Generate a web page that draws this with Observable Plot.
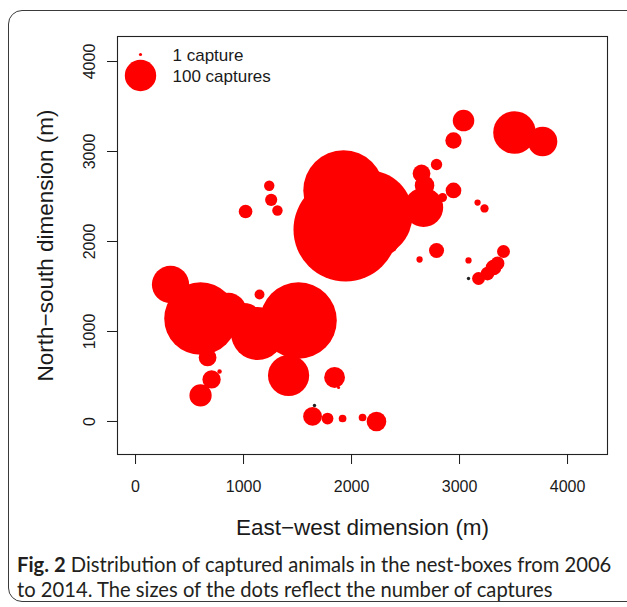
<!DOCTYPE html>
<html><head><meta charset="utf-8">
<script src="https://cdn.jsdelivr.net/npm/d3@7"></script>
<script src="https://cdn.jsdelivr.net/npm/@observablehq/plot@0.6"></script>
<style>
body{margin:0;background:#fff;}
#wrap{position:relative;width:627px;height:607px;overflow:hidden;background:#fff;}
#frame{position:absolute;left:8px;top:10px;width:680px;height:592px;border:1.5px solid #3a3a3a;border-radius:14px;box-sizing:border-box;}
#chart{position:absolute;left:0;top:0;}
#caption{position:absolute;left:17px;top:552px;font-family:Lato,"Open Sans",sans-serif;font-size:19px;line-height:25px;color:#231f20;white-space:nowrap;}
#caption b{font-weight:700;}
</style></head><body>
<div id="wrap"><div id="frame"></div><div id="chart"></div>
<div id="caption"><span id="line1"><b>Fig. 2</b> Distribution of captured animals in the nest-boxes from 2006</span><br><span>to 2014. The sizes of the dots reflect the number of captures</span></div></div>
<script>
// Nest-box positions (m) and number of captures
const xs = [3037, 2944, 3509, 3769, 2787, 2648, 2676, 2667, 2944, 2843, 3167, 3231, 2787, 2630, 3083, 3407, 3176, 3259, 3315, 3352,
            1926, 1944, 2157, 2343, 1238, 1256, 1314, 1019, 1148,
            324, 491, 602, 861, 1000, 1130, 1509,
            667, 704, 778, 602, 1417, 1843, 1639, 1778, 1917, 2102, 2231, 1880];
const ys = [3344, 3122, 3211, 3111, 2856, 2756, 2622, 2378, 2567, 2489, 2433, 2367, 1900, 1800, 1789, 1889, 1589, 1644, 1711, 1756,
            2567, 2133, 2300, 1978, 2619, 2463, 2344, 2333, 1411,
            1522, 1322, 1144, 1233, 1100, 978, 1122,
            711, 467, 556, 289, 511, 489, 56, 33, 33, 44, 0, 378];
const captures = [47, 27, 184, 88, 13, 32, 39, 156, 25, 8, 4, 7, 23, 4, 4, 17, 17, 19, 25, 19,
            657, 1097, 791, 39, 11, 15, 11, 19, 10,
            141, 88, 535, 127, 156, 285, 594,
            32, 34, 2, 50, 172, 44, 36, 14, 6, 6, 39, 1];
// Nest boxes shown as small black dots
const emptyX = [3083, 1657];
const emptyY = [1589, 178];

const xTicks = [0, 1000, 2000, 3000, 4000];
const yTicks = [0, 1000, 2000, 3000, 4000];
const legendLabels = ["1 capture", "100 captures"];
const legendCaptures = [1, 100];
const xLabel = "East\u2212west dimension (m)";
const yLabel = "North\u2212south dimension (m)";

const points = xs.map((x, i) => ({x, y: ys[i], n: captures[i]}));
const empties = emptyX.map((x, i) => ({x, y: emptyY[i]}));
const legend = legendLabels.map((label, i) => ({label, n: legendCaptures[i]}));

const font = "'Liberation Sans', Arial, Helvetica, sans-serif";
const chart = Plot.plot({
  width: 627, height: 545,
  marginLeft: 117, marginRight: 20, marginTop: 36, marginBottom: 91,
  style: {fontFamily: font, fontSize: "16px", background: "transparent", color: "#1a1a1a"},
  x: {domain: [-167, 4370]},
  y: {domain: [-367, 4278]},
  r: {type: "sqrt", domain: [0, 100], range: [0, 15.7]},
  marks: [
    Plot.dot(points, {x: "x", y: "y", r: "n", fill: "#ff0000", stroke: "none"}),
    Plot.dot(empties, {x: "x", y: "y", r: 1.7, fill: "#222"}),
    Plot.frame({stroke: "#222", strokeWidth: 1.1}),
    Plot.axisX({ticks: xTicks, tickSize: 10, tickPadding: 16, tickFormat: d => String(d), fontSize: 16, label: null}),
    Plot.axisY({ticks: yTicks, tickSize: 10, tickPadding: 18, tickRotate: -90, textAnchor: "middle", lineAnchor: "middle", tickFormat: d => String(d), fontSize: 16, label: null}),
    Plot.text([xLabel], {text: d => d, frameAnchor: "bottom", dy: 73, textAnchor: "middle", lineAnchor: "middle", fontSize: 22.5}),
    Plot.text([yLabel], {text: d => d, frameAnchor: "left", dx: -72, rotate: -90, textAnchor: "middle", lineAnchor: "middle", fontSize: 22.5}),
    Plot.dot([legend[0]], {r: "n", frameAnchor: "top-left", dx: 23, dy: 18, fill: "#ff0000"}),
    Plot.dot([legend[1]], {r: "n", frameAnchor: "top-left", dx: 23, dy: 39, fill: "#ff0000"}),
    Plot.text([legend[0]], {text: "label", frameAnchor: "top-left", dx: 55, dy: 19, textAnchor: "start", lineAnchor: "middle", fontSize: 17}),
    Plot.text([legend[1]], {text: "label", frameAnchor: "top-left", dx: 55, dy: 40, textAnchor: "start", lineAnchor: "middle", fontSize: 17})
  ]
});
document.getElementById("chart").appendChild(chart);

// fit caption width to the reference (~595px for the first line)
const cap = document.getElementById("caption");
const l1 = document.getElementById("line1");
const w = l1.getBoundingClientRect().width;
const fs = 19 * 595 / w;
cap.style.fontSize = fs.toFixed(2) + "px";
</script>
</body></html>
